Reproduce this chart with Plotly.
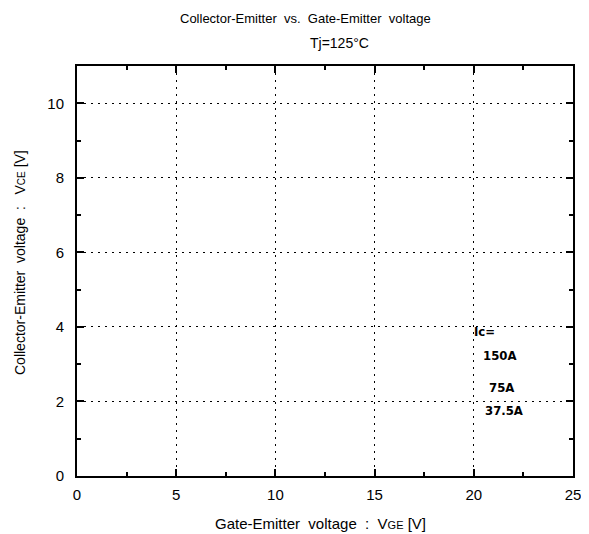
import plotly.graph_objects as go

# Axis setup
x_range = [0, 25]
y_range = [0, 11]
x_ticks = [0, 5, 10, 15, 20, 25]
y_ticks = [0, 2, 4, 6, 8, 10]

# Annotation labels (collector current levels)
label_texts = ["Ic=", "150A", "75A", "37.5A"]
label_x = [19.9, 21.3, 21.4, 21.5]
label_y = [3.89, 3.24, 2.37, 1.75]
label_anchor = ["left", "center", "center", "center"]

# page body has an 8px margin, so the figure is sized/positioned to compensate
O = 8
W, H = 589 - O, 534 - O
L, R, T, B = 77 - O, 16, 66 - O, 58

fig = go.Figure()
fig.add_trace(go.Scatter(x=[], y=[], mode="lines", showlegend=False))

for t, x, y, a in zip(label_texts, label_x, label_y, label_anchor):
    fig.add_annotation(x=x, y=y, text="<b>" + t + "</b>", showarrow=False,
                       xanchor=a, yanchor="middle",
                       font=dict(family="Liberation Sans Narrow, DejaVu Sans Condensed, Arial", size=13, color="black"))

nb = "\u00a0"
PW, PH = W - L - R, H - T - B
def fx(p):  # window pixel -> paper x
    return (p - O - L) / PW
def fy(p):  # window pixel -> paper y
    return (H - B - (p - O)) / PH

fam = "Liberation Sans, Arial"
fig.add_annotation(xref="paper", yref="paper", x=fx(305), y=fy(19),
                   text="Collector-Emitter" + nb + " vs." + nb + " Gate-Emitter" + nb + " voltage",
                   showarrow=False, xanchor="center", yanchor="middle",
                   font=dict(family=fam, size=13, color="black"))
fig.add_annotation(xref="paper", yref="paper", x=fx(339.5), y=fy(43),
                   text="Tj=125°C", showarrow=False, xanchor="center", yanchor="middle",
                   font=dict(family=fam, size=14, color="black"))
fig.add_annotation(xref="paper", yref="paper", x=fx(320), y=fy(523),
                   text="Gate-Emitter" + nb + " voltage" + nb + " :" + nb + " V<span style='font-size:11px'>GE</span> [V]",
                   showarrow=False, xanchor="center", yanchor="middle",
                   font=dict(family=fam, size=15, color="black"))
fig.add_annotation(xref="paper", yref="paper", x=fx(20), y=fy(263),
                   text="Collector-Emitter" + nb + " voltage" + nb + " :" + nb + nb + " V<span style='font-size:10px'>CE</span> [V]",
                   showarrow=False, xanchor="center", yanchor="middle", textangle=-90,
                   font=dict(family=fam, size=14, color="black"))

fig.update_layout(
    width=W, height=H,
    margin=dict(l=L, r=R, t=T, b=B, autoexpand=False),
    paper_bgcolor="white", plot_bgcolor="white",
    font=dict(family=fam, size=13, color="black"),
    showlegend=False,
)
common = dict(ticks="inside", ticklen=7, tickwidth=2, tickcolor="black",
              showline=True, linewidth=2, linecolor="black", mirror="allticks",
              showgrid=True, gridcolor="black", gridwidth=1, griddash="2px,5px",
              zeroline=False, automargin=False, tickfont=dict(family=fam, size=15, color="black"))
fig.update_xaxes(range=x_range, tickvals=x_ticks, ticklabelstandoff=4,
                 minor=dict(dtick=2.5, ticks="inside", ticklen=4, tickwidth=2, tickcolor="black", showgrid=False),
                 **common)
fig.update_yaxes(range=y_range, tickvals=y_ticks, ticklabelstandoff=8,
                 minor=dict(dtick=1, ticks="inside", ticklen=4, tickwidth=2, tickcolor="black", showgrid=False),
                 **common)

fig.write_html("out.html")
